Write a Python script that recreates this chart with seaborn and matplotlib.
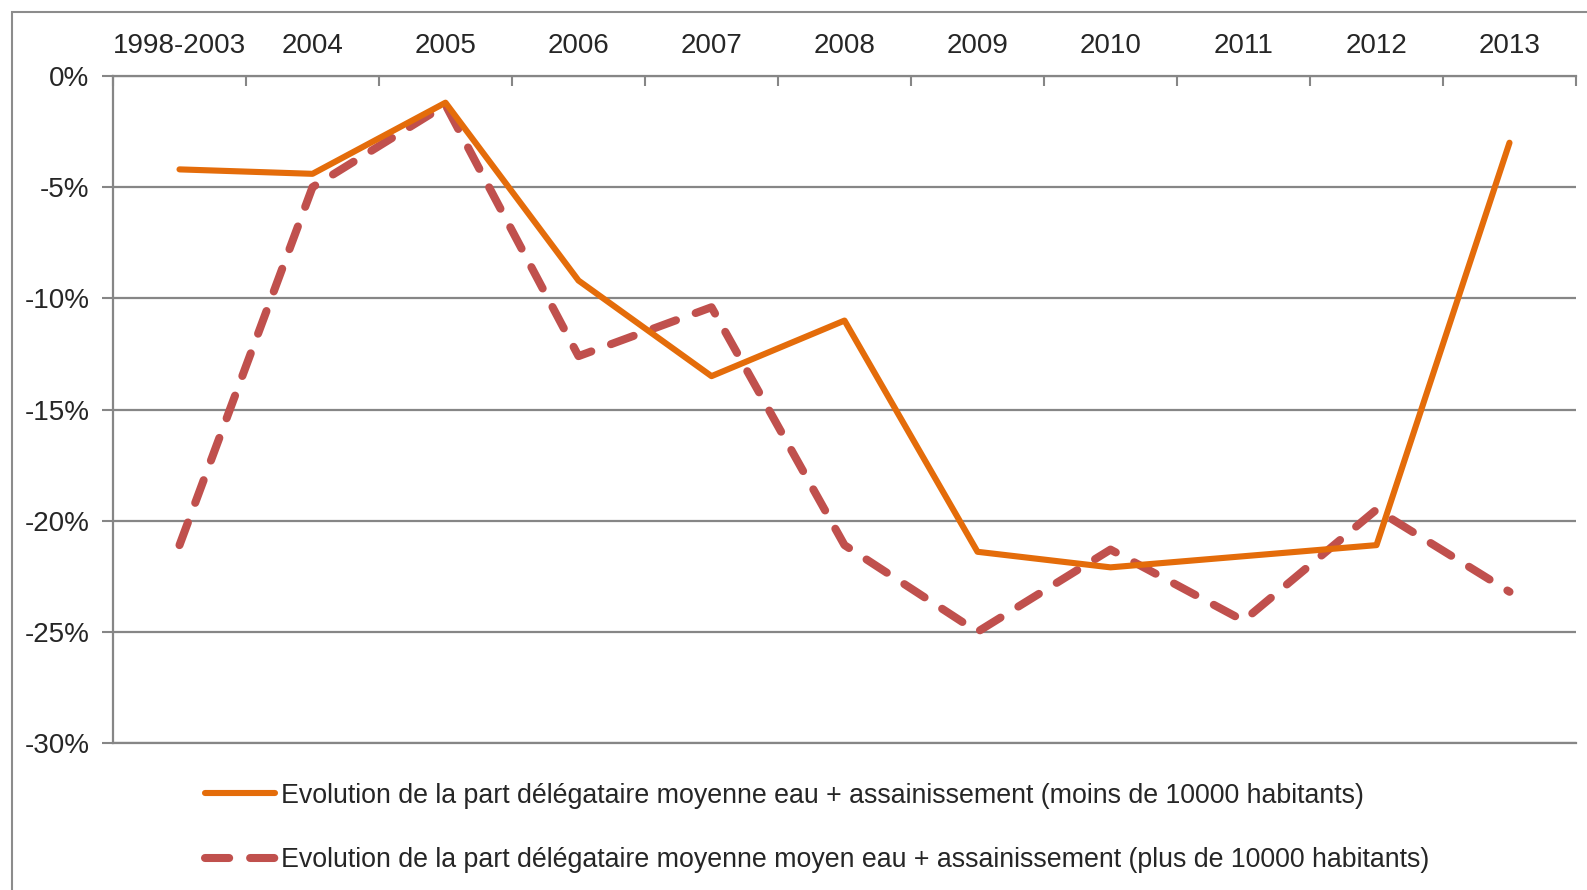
import numpy as np
import matplotlib
matplotlib.use('Agg')
import matplotlib.pyplot as plt
import pandas as pd
import seaborn as sns
from matplotlib.patches import Rectangle
from matplotlib.ticker import FuncFormatter, FixedLocator

annees = ['1998-2003', '2004', '2005', '2006', '2007', '2008',
          '2009', '2010', '2011', '2012', '2013']
moins_10000 = [-4.2, -4.4, -1.2, -9.2, -13.5, -11.0, -21.4, -22.1, -21.6, -21.1, -3.0]
plus_10000 = [-21.1, -5.0, -1.3, -12.6, -10.4, -21.1, -25.0, -21.3, -24.5, -19.5, -23.2]

label_moins = 'Evolution de la part délégataire moyenne eau + assainissement (moins de 10000 habitants)'
label_plus = 'Evolution de la part délégataire moyenne moyen eau + assainissement (plus de 10000 habitants)'

orange = '#E46C0A'
rouge = '#C0504D'
gris = '#868686'

sns.set_style('white')
plt.rcParams['font.family'] = ['Liberation Sans', 'DejaVu Sans']
plt.rcParams['lines.dash_capstyle'] = 'round'
plt.rcParams['lines.solid_capstyle'] = 'round'

df_moins = pd.DataFrame({'annee': annees, 'valeur': moins_10000})
df_plus = pd.DataFrame({'annee': annees, 'valeur': plus_10000})

fig = plt.figure(figsize=(15.87, 8.90), dpi=100)
ax = fig.add_axes([113/1587, 1-743/890, (1576-113)/1587, (743-76)/890])

sns.lineplot(data=df_plus, x='annee', y='valeur', color=rouge, linewidth=5.8,
             sort=False, ax=ax, label=label_plus, dashes=False)
ax.lines[-1].set_dashes((3.0, 2.6))
sns.lineplot(data=df_moins, x='annee', y='valeur', color=orange, linewidth=4.4,
             sort=False, ax=ax, label=label_moins, zorder=3)

n = len(annees)
ax.set_xlim(-0.5, n - 0.5)
ax.set_ylim(-30, 0)
ax.set_xlabel('')
ax.set_ylabel('')

# y axis
ax.set_yticks(np.arange(-30, 1, 5))
ax.yaxis.set_major_formatter(FuncFormatter(lambda v, p: '%d%%' % v))
ax.tick_params(axis='y', which='major', direction='out', length=8, width=1.5,
               color=gris, pad=9, labelsize=20, left=True)
ax.grid(axis='y', color=gris, linewidth=1.6)
ax.grid(axis='x', visible=False)

# x axis on top, labels centred, ticks at boundaries
ax.xaxis.tick_top()
ax.set_xticks(range(n))
ax.set_xticklabels(annees)
ax.xaxis.set_minor_locator(FixedLocator(np.arange(-0.5, n, 1.0)))
ax.tick_params(axis='x', which='major', length=0, pad=12.5, labelsize=20)
ax.tick_params(axis='x', which='minor', direction='in', length=7, width=1.5,
               color=gris, top=True, bottom=False)

for side in ['left', 'top', 'bottom']:
    ax.spines[side].set_color(gris)
    ax.spines[side].set_linewidth(1.6)
ax.spines['right'].set_visible(False)

# legend below
handles, labels = ax.get_legend_handles_labels()
ax.get_legend().remove()
order = [labels.index(label_moins), labels.index(label_plus)]
leg = fig.legend([handles[i] for i in order], [labels[i] for i in order],
                 loc='center left', bbox_to_anchor=(205/1587, 1-828/890),
                 frameon=False, fontsize=19.3, handlelength=2.6,
                 handletextpad=0.25, labelspacing=1.45, borderpad=0,
                 borderaxespad=0)

# outer chart border
fig.patches.append(Rectangle((12/1587, -0.1), 1.2, 1 - 12/890 + 0.1,
                             transform=fig.transFigure, fill=False,
                             edgecolor='#8c8c8c', linewidth=1.5))

fig.savefig('out.png', dpi=100)
